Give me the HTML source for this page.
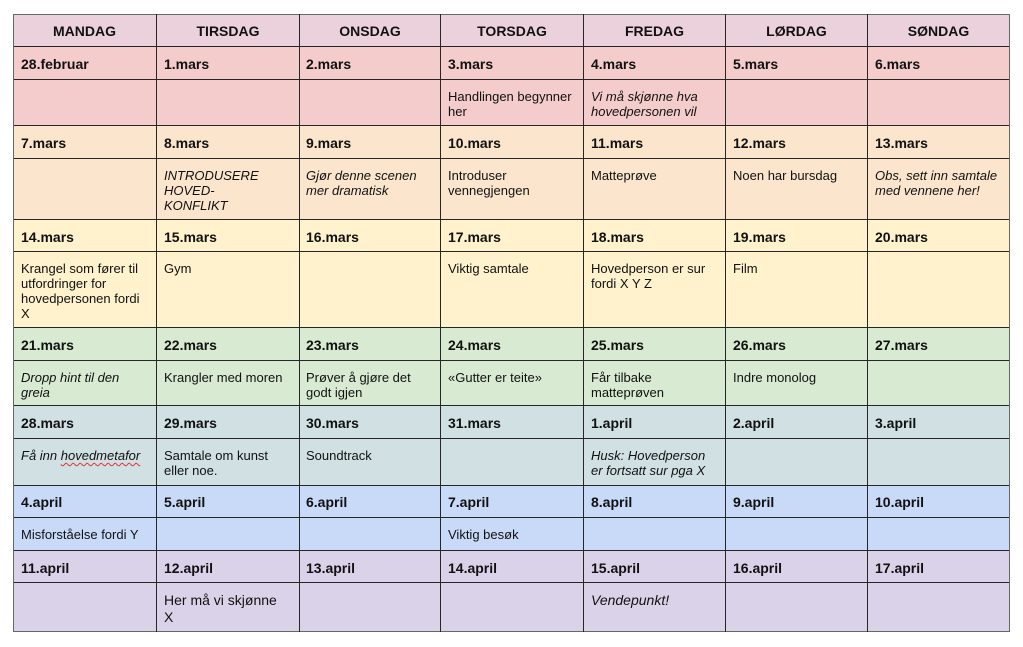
<!DOCTYPE html>
<html>
<head>
<meta charset="utf-8">
<style>
  html, body { margin:0; padding:0; background:#fff; }
  body { width:1023px; height:647px; position:relative; overflow:hidden;
         font-family:"Liberation Sans", Arial, sans-serif; color:#111; }
  .bg { position:absolute; left:13px; width:997px; }
  .hl { position:absolute; left:13px; width:997px; height:1px; background:#262626; }
  .vl { position:absolute; top:14px; width:1px; height:618px; background:#262626; }
  .t { position:absolute; white-space:nowrap; font-size:13px; line-height:15px; }
  .d { position:absolute; white-space:nowrap; font-size:14px; line-height:16px; font-weight:bold; }
  .h { position:absolute; white-space:nowrap; font-size:14px; line-height:16px; font-weight:bold; text-align:center; }
  .i { font-style:italic; }
  .big { font-size:14px; line-height:16.5px; }
  .sq { text-decoration: underline wavy #d33; text-underline-offset:2px; text-decoration-thickness:1px; }
</style>
</head>
<body>
<!-- backgrounds -->
<div class="bg" style="top:14px;height:33px;background:#ead1dc"></div>
<div class="bg" style="top:47px;height:79px;background:#f4cccc"></div>
<div class="bg" style="top:126px;height:93px;background:#fce5cd"></div>
<div class="bg" style="top:219px;height:108px;background:#fff2cc"></div>
<div class="bg" style="top:327px;height:79px;background:#d9ead3"></div>
<div class="bg" style="top:406px;height:79px;background:#d0e0e3"></div>
<div class="bg" style="top:485px;height:65px;background:#c9daf8"></div>
<div class="bg" style="top:550px;height:82px;background:#d9d2e9"></div>

<!-- horizontal lines -->
<div class="hl" style="top:14px;background:#666"></div>
<div class="hl" style="top:46px"></div>
<div class="hl" style="top:79px"></div>
<div class="hl" style="top:125px"></div>
<div class="hl" style="top:158px"></div>
<div class="hl" style="top:219px"></div>
<div class="hl" style="top:251px"></div>
<div class="hl" style="top:327px"></div>
<div class="hl" style="top:360px"></div>
<div class="hl" style="top:405px"></div>
<div class="hl" style="top:438px"></div>
<div class="hl" style="top:485px"></div>
<div class="hl" style="top:517px"></div>
<div class="hl" style="top:550px"></div>
<div class="hl" style="top:582px"></div>
<div class="hl" style="top:631px;background:#666"></div>

<!-- vertical lines -->
<div class="vl" style="left:13px;background:#666"></div>
<div class="vl" style="left:156px"></div>
<div class="vl" style="left:299px"></div>
<div class="vl" style="left:440px"></div>
<div class="vl" style="left:583px"></div>
<div class="vl" style="left:725px"></div>
<div class="vl" style="left:867px"></div>
<div class="vl" style="left:1009px;background:#666"></div>

<!-- header -->
<div class="h" style="top:23px;left:13px;width:143px">MANDAG</div>
<div class="h" style="top:23px;left:157px;width:142px">TIRSDAG</div>
<div class="h" style="top:23px;left:300px;width:140px">ONSDAG</div>
<div class="h" style="top:23px;left:441px;width:142px">TORSDAG</div>
<div class="h" style="top:23px;left:584px;width:141px">FREDAG</div>
<div class="h" style="top:23px;left:726px;width:141px">LØRDAG</div>
<div class="h" style="top:23px;left:868px;width:141px">SØNDAG</div>

<!-- row 1 dates -->
<div class="d" style="top:56px;left:21px">28.februar</div>
<div class="d" style="top:56px;left:164px">1.mars</div>
<div class="d" style="top:56px;left:306px">2.mars</div>
<div class="d" style="top:56px;left:448px">3.mars</div>
<div class="d" style="top:56px;left:591px">4.mars</div>
<div class="d" style="top:56px;left:733px">5.mars</div>
<div class="d" style="top:56px;left:875px">6.mars</div>
<!-- row 1 content -->
<div class="t" style="top:88.5px;left:448px">Handlingen begynner<br>her</div>
<div class="t i" style="top:88.5px;left:591px">Vi må skjønne hva<br>hovedpersonen vil</div>

<!-- row 2 dates -->
<div class="d" style="top:135px;left:21px">7.mars</div>
<div class="d" style="top:135px;left:164px">8.mars</div>
<div class="d" style="top:135px;left:306px">9.mars</div>
<div class="d" style="top:135px;left:448px">10.mars</div>
<div class="d" style="top:135px;left:591px">11.mars</div>
<div class="d" style="top:135px;left:733px">12.mars</div>
<div class="d" style="top:135px;left:875px">13.mars</div>
<!-- row 2 content -->
<div class="t i" style="top:167.5px;left:164px">INTRODUSERE<br>HOVED-<br>KONFLIKT</div>
<div class="t i" style="top:167.5px;left:306px">Gjør denne scenen<br>mer dramatisk</div>
<div class="t" style="top:167.5px;left:448px">Introduser<br>vennegjengen</div>
<div class="t" style="top:167.5px;left:591px">Matteprøve</div>
<div class="t" style="top:167.5px;left:733px">Noen har bursdag</div>
<div class="t i" style="top:167.5px;left:875px">Obs, sett inn samtale<br>med vennene her!</div>

<!-- row 3 dates -->
<div class="d" style="top:228.5px;left:21px">14.mars</div>
<div class="d" style="top:228.5px;left:164px">15.mars</div>
<div class="d" style="top:228.5px;left:306px">16.mars</div>
<div class="d" style="top:228.5px;left:448px">17.mars</div>
<div class="d" style="top:228.5px;left:591px">18.mars</div>
<div class="d" style="top:228.5px;left:733px">19.mars</div>
<div class="d" style="top:228.5px;left:875px">20.mars</div>
<!-- row 3 content -->
<div class="t" style="top:260.8px;left:21px">Krangel som fører til<br>utfordringer for<br>hovedpersonen fordi<br>X</div>
<div class="t" style="top:260.8px;left:164px">Gym</div>
<div class="t" style="top:260.8px;left:448px">Viktig samtale</div>
<div class="t" style="top:260.8px;left:591px">Hovedperson er sur<br>fordi X Y Z</div>
<div class="t" style="top:260.8px;left:733px">Film</div>

<!-- row 4 dates -->
<div class="d" style="top:336.5px;left:21px">21.mars</div>
<div class="d" style="top:336.5px;left:164px">22.mars</div>
<div class="d" style="top:336.5px;left:306px">23.mars</div>
<div class="d" style="top:336.5px;left:448px">24.mars</div>
<div class="d" style="top:336.5px;left:591px">25.mars</div>
<div class="d" style="top:336.5px;left:733px">26.mars</div>
<div class="d" style="top:336.5px;left:875px">27.mars</div>
<!-- row 4 content -->
<div class="t i" style="top:369.5px;left:21px">Dropp hint til den<br>greia</div>
<div class="t" style="top:369.5px;left:164px">Krangler med moren</div>
<div class="t" style="top:369.5px;left:306px">Prøver å gjøre det<br>godt igjen</div>
<div class="t" style="top:369.5px;left:448px">«Gutter er teite»</div>
<div class="t" style="top:369.5px;left:591px">Får tilbake<br>matteprøven</div>
<div class="t" style="top:369.5px;left:733px">Indre monolog</div>

<!-- row 5 dates -->
<div class="d" style="top:415px;left:21px">28.mars</div>
<div class="d" style="top:415px;left:164px">29.mars</div>
<div class="d" style="top:415px;left:306px">30.mars</div>
<div class="d" style="top:415px;left:448px">31.mars</div>
<div class="d" style="top:415px;left:591px">1.april</div>
<div class="d" style="top:415px;left:733px">2.april</div>
<div class="d" style="top:415px;left:875px">3.april</div>
<!-- row 5 content -->
<div class="t i" style="top:447.8px;left:21px">Få inn <span class="sq">hovedmetafor</span></div>
<div class="t" style="top:447.8px;left:164px">Samtale om kunst<br>eller noe.</div>
<div class="t" style="top:447.8px;left:306px">Soundtrack</div>
<div class="t i" style="top:447.8px;left:591px">Husk: Hovedperson<br>er fortsatt sur pga X</div>

<!-- row 6 dates -->
<div class="d" style="top:494px;left:21px">4.april</div>
<div class="d" style="top:494px;left:164px">5.april</div>
<div class="d" style="top:494px;left:306px">6.april</div>
<div class="d" style="top:494px;left:448px">7.april</div>
<div class="d" style="top:494px;left:591px">8.april</div>
<div class="d" style="top:494px;left:733px">9.april</div>
<div class="d" style="top:494px;left:875px">10.april</div>
<!-- row 6 content -->
<div class="t" style="top:526.8px;left:21px">Misforståelse fordi Y</div>
<div class="t" style="top:526.8px;left:448px">Viktig besøk</div>

<!-- row 7 dates -->
<div class="d" style="top:559.5px;left:21px">11.april</div>
<div class="d" style="top:559.5px;left:164px">12.april</div>
<div class="d" style="top:559.5px;left:306px">13.april</div>
<div class="d" style="top:559.5px;left:448px">14.april</div>
<div class="d" style="top:559.5px;left:591px">15.april</div>
<div class="d" style="top:559.5px;left:733px">16.april</div>
<div class="d" style="top:559.5px;left:875px">17.april</div>
<!-- row 7 content -->
<div class="t big" style="top:592px;left:164px">Her må vi skjønne<br>X</div>
<div class="t big i" style="top:592px;left:591px">Vendepunkt!</div>
</body>
</html>
